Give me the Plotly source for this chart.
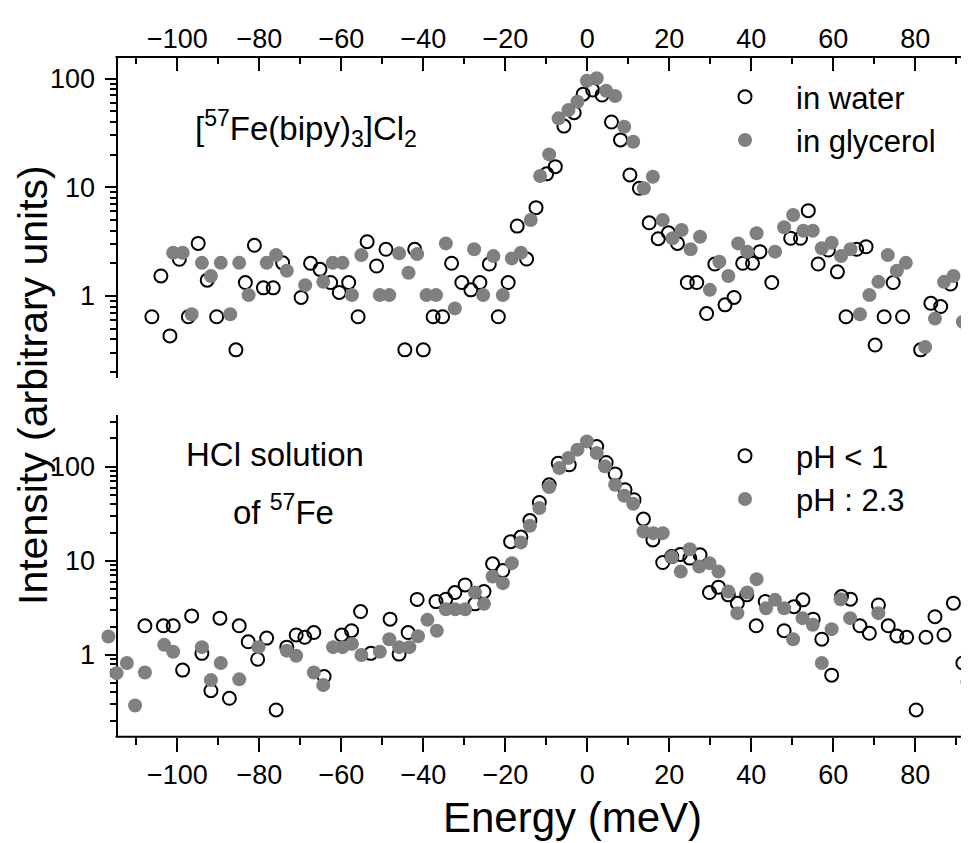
import plotly.graph_objects as go

# ---------------- data ----------------
# Top panel: [57Fe(bipy)3]Cl2
water_x = [-106.2, -104.0, -101.8, -99.5, -97.3, -94.9, -92.7, -90.4, -85.7, -83.4, -81.2, -79.0, -76.6, -74.3,
           -69.8, -67.5, -65.2, -62.6, -60.5, -58.2, -55.9, -53.7, -51.4, -49.1, -44.5, -42.1, -40.0, -37.6,
           -35.3, -33.1, -30.6, -28.4, -26.2, -23.9, -21.7, -19.3, -17.1, -14.8, -12.5, -9.9, -7.8, -5.7,
           -3.2, -1.0, 1.3, 3.6, 5.9, 8.1, 10.4, 12.7, 15.1, 17.3, 19.8, 22.0, 24.4, 26.7, 29.1, 31.1, 33.6,
           35.8, 37.9, 40.3, 42.1, 45.0, 49.6, 52.0, 53.9, 56.3, 58.8, 61.0, 63.1, 65.7, 68.0, 70.2, 72.4,
           74.6, 76.9, 81.3, 83.8, 86.2, 88.6]
water_y = [0.645, 1.53, 0.43, 2.18, 0.645, 3.05, 1.40, 0.645, 0.32, 1.33, 2.93, 1.19, 1.19, 2.02,
           0.97, 2.0, 1.76, 1.33, 1.08, 1.33, 0.645, 3.16, 1.89, 2.69, 0.32, 2.69, 0.32, 0.645,
           0.645, 2.0, 1.33, 1.14, 1.33, 1.97, 0.645, 1.33, 4.4, 2.19, 6.5, 13.3, 15.5, 36.6,
           48.6, 72, 78.5, 70.6, 39.9, 27.3, 13.0, 9.8, 4.72, 3.37, 3.82, 3.05, 1.33, 1.33, 0.69, 1.97, 0.83,
           0.97, 2.0, 2.0, 2.56, 1.33, 3.4, 3.4, 6.1, 1.97, 2.65, 1.67, 0.645, 2.69, 2.84, 0.354, 0.645,
           1.33, 0.645, 0.32, 0.857, 0.80, 1.29]

glyc_x = [-101.0, -98.7, -96.5, -94.0, -91.8, -89.4, -87.1, -84.9, -82.6, -78.2, -75.9, -73.3, -68.8, -64.4,
          -62.1, -59.7, -57.4, -55.1, -50.6, -48.3, -45.9, -43.6, -41.5, -39.2, -36.9, -34.5, -32.3, -27.6,
          -25.4, -22.9, -20.6, -18.4, -16.2, -13.8, -11.5, -9.3, -7.0, -4.6, -2.4, -0.1, 2.3, 4.6, 6.8, 9.0,
          11.2, 13.8, 16.0, 18.4, 20.8, 23.0, 25.2, 27.5, 29.9, 32.2, 34.4, 36.8, 39.0, 41.3, 45.8, 48.0,
          50.2, 52.7, 55.0, 57.2, 59.6, 61.9, 64.2, 66.5, 68.8, 71.0, 73.3, 75.5, 77.7, 82.4, 84.8, 87.0,
          89.3, 91.6, 93.2]
glyc_y = [2.50, 2.50, 0.68, 2.02, 1.53, 2.02, 0.68, 2.02, 1.02, 2.02, 2.38, 1.71, 1.26, 1.35,
          2.02, 2.02, 1.02, 2.38, 1.02, 1.02, 2.47, 1.64, 2.43, 1.02, 1.02, 3.05, 0.77, 2.69,
          1.02, 2.33, 1.02, 2.22, 2.50, 5.0, 12.7, 20.1, 43.1, 51.4, 61.3, 95.7, 100.7, 77.4, 69.2, 36.1,
          26.3, 9.8, 12.5, 5.0, 3.4, 4.05, 2.69, 3.51, 1.14, 2.07, 1.53, 3.05, 2.56, 3.78, 2.56, 4.29,
          5.56, 3.99, 3.99, 2.75, 3.09, 2.33, 2.69, 0.68, 1.02, 1.35, 2.38, 1.71, 2.02, 0.34, 0.62, 1.35,
          1.53, 0.58, 1.02]

# Bottom panel: HCl solution of 57Fe
ph1_x = [-107.9, -103.4, -101.0, -98.7, -96.5, -94.0, -91.8, -89.6, -87.3, -84.9, -82.7, -80.4, -78.2, -75.9,
         -73.3, -71.0, -68.9, -66.7, -64.2, -59.9, -57.5, -55.3, -52.8, -48.1, -45.9, -43.7, -41.5, -36.9,
         -34.5, -32.3, -29.8, -27.4, -25.2, -23.1, -20.6, -18.7, -16.2, -14.0, -11.7, -9.3, -7.1, -4.4,
         2.3, 4.6, 6.8, 9.2, 11.4, 13.7, 16.0, 18.4, 20.6, 22.7, 25.0, 27.5, 29.8, 32.0, 34.4, 36.6,
         38.9, 41.2, 43.4, 48.0, 50.4, 52.6, 55.1, 57.2, 59.6, 62.0, 64.2, 66.5, 68.8, 71.0, 73.4, 75.5,
         77.9, 80.2, 82.6, 84.8, 87.0, 89.3, 91.6, 92.9]
ph1_y = [2.04, 2.04, 2.04, 0.69, 2.60, 1.04, 0.417, 2.46, 0.346, 2.04, 1.38, 0.90, 1.51, 0.26,
         1.21, 1.63, 1.54, 1.73, 0.59, 1.63, 1.81, 2.89, 1.04, 2.40, 1.02, 1.73, 3.89, 3.69,
         3.91, 4.60, 5.55, 3.49, 4.71, 9.3, 7.88, 16.0, 17.9, 26.8, 41.7, 64.4, 109, 105,
         164, 111, 84, 57, 44.6, 27.8, 16.7, 9.6, 11.1, 11.7, 10.7, 11.6, 4.60, 5.25, 4.35, 3.55,
         4.35, 2.04, 3.69, 1.81, 3.26, 3.85, 2.40, 1.47, 0.61, 4.17, 3.91, 2.04, 1.70, 3.40, 2.04, 1.59,
         1.54, 0.26, 1.54, 2.55, 1.63, 3.55, 0.82, 0.52]

ph23_x = [-116.8, -114.8, -112.3, -110.3, -107.9, -103.2, -101.0, -94.0, -91.8, -89.4, -84.9, -80.2, -73.3,
          -71.0, -66.7, -64.4, -62.0, -59.7, -57.4, -55.1, -50.6, -48.3, -45.9, -43.4, -41.3, -39.0, -36.7,
          -34.5, -32.2, -29.8, -27.4, -25.2, -23.1, -20.6, -18.4, -16.2, -14.0, -11.7, -9.3, -6.8, -4.6,
          -2.4, -0.1, 2.3, 4.3, 6.8, 9.0, 11.2, 13.7, 16.1, 18.4, 20.6, 22.8, 25.0, 27.3, 29.8, 32.0,
          34.4, 36.6, 39.0, 41.3, 43.6, 45.8, 48.0, 50.2, 52.5, 55.0, 57.2, 59.6, 61.8, 64.1, 71.0]
ph23_y = [1.57, 0.64, 0.82, 0.29, 0.65, 1.28, 1.08, 1.21, 0.54, 0.82, 0.55, 1.21, 1.11,
          0.98, 0.65, 0.48, 1.21, 1.21, 1.31, 1.0, 1.08, 1.47, 1.21, 1.21, 1.58, 2.36, 1.81,
          3.06, 3.06, 3.06, 4.60, 3.49, 6.81, 5.79, 9.45, 15.7, 23.6, 36.4, 60.8, 96.9, 124,
          152, 186, 140, 101, 64.4, 49.1, 40.4, 20.5, 19.7, 19.7, 11.0, 7.69, 13.3, 8.7, 9.45, 7.69,
          4.71, 2.78, 4.60, 6.39, 3.14, 3.85, 3.14, 1.47, 2.46, 2.09, 0.82, 1.88, 3.91, 2.46, 2.78]

y_tickvals = [1, 10, 100]
y_ticktext = ["1", "10", "100"]

# ---------------- layout geometry ----------------
# the page adds an 8px body margin, so the figure is 8px smaller and all
# positions below are given in window pixels and converted.
OFF = 8
W, H = 969 - OFF, 843 - OFF
FONT = "Liberation Sans, Arial, sans-serif"
GRAY = "#808080"

def px_x(p):
    return (p - OFF) / W

def px_y(p):
    return (H - (p - OFF)) / H

X_RANGE = [-119.0, 93.1]
AXIS_X_PX = 116.5
TOP_DOM = [px_y(378), px_y(57)]
BOT_DOM = [px_y(736.7), px_y(415)]

open_marker = dict(symbol="circle-open", size=13, color="black", line=dict(width=2, color="black"))
fill_marker = dict(symbol="circle", size=14, color=GRAY, line=dict(width=0))

fig = go.Figure()
fig.add_trace(go.Scatter(x=water_x, y=water_y, mode="markers", name="in water", marker=open_marker,
                         xaxis="x", yaxis="y", legend="legend"))
fig.add_trace(go.Scatter(x=glyc_x, y=glyc_y, mode="markers", name="in glycerol", marker=fill_marker,
                         xaxis="x", yaxis="y", legend="legend"))
fig.add_trace(go.Scatter(x=ph1_x, y=ph1_y, mode="markers", name="pH < 1", marker=open_marker,
                         xaxis="x2", yaxis="y2", legend="legend2"))
fig.add_trace(go.Scatter(x=ph23_x, y=ph23_y, mode="markers", name="pH : 2.3", marker=fill_marker,
                         xaxis="x2", yaxis="y2", legend="legend2"))

tickfont = dict(family=FONT, size=27, color="black")

common_x = dict(range=X_RANGE, domain=[px_x(99.4), 1.0], showgrid=False, zeroline=False, showline=False,
                tickmode="linear", tick0=0, dtick=20, tickwidth=2, tickcolor="black",
                tickfont=tickfont, layer="below traces")
fig.update_layout(
    xaxis=dict(common_x, anchor="y", side="top", ticks="inside", ticklen=14,
               minor=dict(dtick=10, tick0=0, ticks="inside", ticklen=7, tickwidth=2, tickcolor="black"),
               ticklabelstandoff=3),
    xaxis2=dict(common_x, anchor="y2", side="bottom", ticks="outside", ticklen=14,
                minor=dict(dtick=10, tick0=0, ticks="outside", ticklen=7, tickwidth=2, tickcolor="black"),
                ticklabelstandoff=0),
)

common_y = dict(type="log", anchor="free", position=px_x(AXIS_X_PX), showgrid=False, zeroline=False,
                showline=True, linewidth=2, linecolor="black", ticks="outside", ticklen=11, tickwidth=2,
                tickcolor="black", tickmode="array", tickvals=y_tickvals, ticktext=y_ticktext,
                tickfont=tickfont, layer="below traces", ticklabelstandoff=4,
                minor=dict(dtick="D1", ticks="outside", ticklen=6, tickwidth=1.5, tickcolor="black"))
fig.update_layout(
    yaxis=dict(common_y, domain=TOP_DOM, range=[-0.754, 2.199]),
    yaxis2=dict(common_y, domain=BOT_DOM, range=[-0.869, 2.550]),
)

# frame lines for the x axes (start at the y-axis position)
for yy in (TOP_DOM[1], BOT_DOM[0]):
    fig.add_shape(type="line", xref="paper", yref="paper", x0=px_x(AXIS_X_PX - 1), x1=1.0, y0=yy, y1=yy,
                  line=dict(color="black", width=2), layer="below")

legfont = dict(family=FONT, size=31, color="black")
fig.update_layout(
    legend=dict(x=px_x(694), y=px_y(70), xanchor="left", yanchor="top", font=legfont,
                bgcolor="rgba(0,0,0,0)", tracegroupgap=0, itemwidth=92),
    legend2=dict(x=px_x(694), y=px_y(429), xanchor="left", yanchor="top", font=legfont,
                 bgcolor="rgba(0,0,0,0)", tracegroupgap=0, itemwidth=92),
)

annfont = dict(family=FONT, size=33, color="black")
fig.add_annotation(x=px_x(306), y=px_y(128), xref="paper", yref="paper", showarrow=False,
                   xanchor="center", yanchor="middle",
                   text="[<sup>57</sup>Fe(bipy)<sub>3</sub>]Cl<sub>2</sub>", font=annfont)
fig.add_annotation(x=px_x(275), y=px_y(455), xref="paper", yref="paper", showarrow=False,
                   xanchor="center", yanchor="middle", text="HCl solution", font=annfont)
fig.add_annotation(x=px_x(283), y=px_y(510), xref="paper", yref="paper", showarrow=False,
                   xanchor="center", yanchor="middle", text="of <sup>57</sup>Fe", font=annfont)

fig.add_annotation(x=px_x(572), y=px_y(817), xref="paper", yref="paper", showarrow=False,
                   xanchor="center", yanchor="middle",
                   text="Energy (meV)", font=dict(family=FONT, size=42, color="black"))
fig.add_annotation(x=px_x(33), y=px_y(385), xref="paper", yref="paper", showarrow=False,
                   xanchor="center", yanchor="middle",
                   text="Intensity (arbitrary units)", font=dict(family=FONT, size=41, color="black"),
                   textangle=-90)

fig.update_layout(width=W, height=H, margin=dict(l=0, r=0, t=0, b=0),
                  paper_bgcolor="white", plot_bgcolor="white", showlegend=True,
                  font=dict(family=FONT, color="black"))

fig.write_html("out.html")
